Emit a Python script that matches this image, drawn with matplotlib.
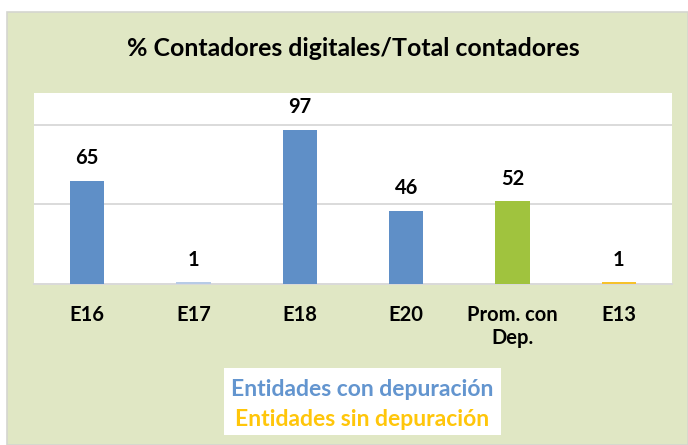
import matplotlib
matplotlib.use("Agg")
import matplotlib.pyplot as plt
from matplotlib.patches import Rectangle

categories = ["E16", "E17", "E18", "E20", "Prom. con\nDep.", "E13"]
values = [65, 1, 97, 46, 52, 1]
bar_colors = ["#5F8FC7", "#B7CBE6", "#5F8FC7", "#5F8FC7", "#A0C33E", "#F5C22B"]

title = "% Contadores digitales/Total contadores"
legend_lines = ["Entidades con depuración", "Entidades sin depuración"]
legend_colors = ["#6395CF", "#FFC60A"]

plt.rcParams["font.family"] = ["Lato", "DejaVu Sans"]
plt.rcParams["font.weight"] = "bold"

W, H = 688, 445
fig = plt.figure(figsize=(W / 100, H / 100), dpi=100, facecolor="white")

# green chart area background
fig.patches.append(Rectangle((7 / W, 0), 1 - 7 / W, 1 - 12 / H, transform=fig.transFigure,
                             facecolor="#E0E7C4", edgecolor="#D4D6CF", linewidth=1.2, zorder=-10))

ax = fig.add_axes([34 / W, 1 - 284 / H, (672 - 34) / W, (284 - 93) / H])
ax.set_facecolor("white")

x = range(len(categories))
bars = ax.bar(x, values, width=0.32, color=bar_colors, zorder=3)
ax.set_xlim(-0.5, len(categories) - 0.5)
ax.set_ylim(0, 120)
ax.set_yticks([50, 100])
ax.yaxis.grid(True, color="#DADADA", linewidth=1.4, zorder=0)
ax.tick_params(axis="y", left=False, labelleft=False)
ax.tick_params(axis="x", length=0, pad=15)
ax.set_xticks(list(x))
ax.set_xticklabels(categories, fontsize=14.5, fontweight="bold", linespacing=1.2)
for sp in ["top", "left", "right"]:
    ax.spines[sp].set_visible(False)
ax.spines["bottom"].set_color("#D9D9D9")
ax.spines["bottom"].set_linewidth(1.4)

for b, v in zip(bars, values):
    ax.annotate(f"{v}", (b.get_x() + b.get_width() / 2, v), xytext=(0, 9),
                textcoords="offset points", ha="center", va="bottom",
                fontsize=14.5, fontweight="bold", color="black")

fig.text(353 / W, 1 - 48 / H, title, ha="center", va="center", fontsize=17.9, fontweight="bold")

# legend text box
fig.patches.append(Rectangle((224 / W, 1 - 435 / H), (501 - 224) / W, (435 - 368) / H,
                             transform=fig.transFigure, facecolor="white", edgecolor="none", zorder=1))
fig.text(362.5 / W, 1 - 389 / H, legend_lines[0], ha="center", va="center",
         fontsize=16.5, fontweight="bold", color=legend_colors[0], zorder=2)
fig.text(362.5 / W, 1 - 419 / H, legend_lines[1], ha="center", va="center",
         fontsize=16.5, fontweight="bold", color=legend_colors[1], zorder=2)

fig.savefig("out.png", dpi=100, facecolor=fig.get_facecolor())
